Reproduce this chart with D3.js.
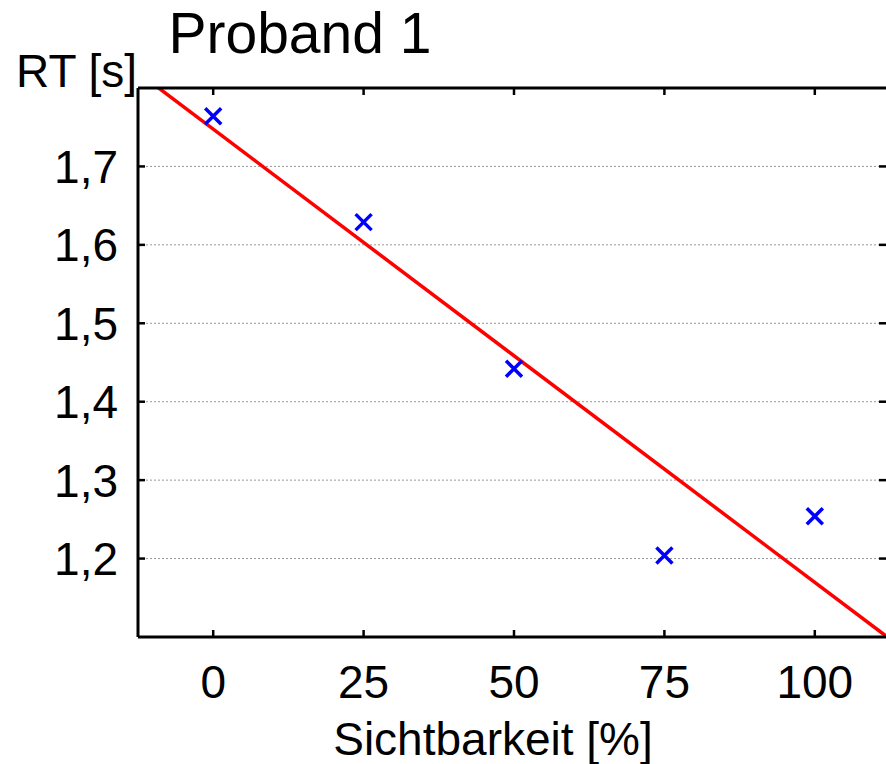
<!DOCTYPE html>
<html><head><meta charset="utf-8">
<script src="https://cdn.jsdelivr.net/npm/d3@7"></script>
<style>body{margin:0;background:#fff}svg{display:block}text{font-family:"Liberation Sans",Arial,sans-serif;fill:#000}</style>
</head><body>
<script>
const visibility = [0, 25, 50, 75, 100];
const rtValues = [1.764, 1.629, 1.442, 1.204, 1.254];
const xTicks = [0, 25, 50, 75, 100];
const yTicks = [1.2, 1.3, 1.4, 1.5, 1.6, 1.7];
const xDomain = [-12.5, 112.5];
const yDomain = [1.1, 1.8];
const title = "Proband 1";
const xLabel = "Sichtbarkeit [%]";
const yLabel = "RT [s]";

const W = 886, H = 764;
const L = 138, R = 890, T = 88, B = 637;
const svg = d3.select("body").append("svg").attr("width", W).attr("height", H);
const x = d3.scaleLinear().domain(xDomain).range([L, R]);
const y = d3.scaleLinear().domain(yDomain).range([B, T]);
const fmt = d => d.toFixed(1).replace(".", ",");

// grid
svg.append("g").selectAll("line").data(yTicks).join("line")
  .attr("x1", L).attr("x2", R).attr("y1", d => y(d)).attr("y2", d => y(d))
  .attr("stroke", "#999").attr("stroke-width", 1).attr("stroke-dasharray", "2,2");

// regression line (least squares from data)
const mx = d3.mean(visibility), my = d3.mean(rtValues);
const slope = d3.sum(visibility, (v, i) => (v - mx) * (rtValues[i] - my)) / d3.sum(visibility, v => (v - mx) ** 2);
const icpt = my - slope * mx;
svg.append("clipPath").attr("id", "clip").append("rect").attr("x", L).attr("y", T).attr("width", R - L).attr("height", B - T);
svg.append("line").attr("clip-path", "url(#clip)")
  .attr("x1", x(xDomain[0])).attr("y1", y(icpt + slope * xDomain[0]))
  .attr("x2", x(xDomain[1])).attr("y2", y(icpt + slope * xDomain[1]))
  .attr("stroke", "#ff0000").attr("stroke-width", 3.5);

// markers
const s = 8;
const mk = svg.append("g").selectAll("g").data(visibility.map((v, i) => [v, rtValues[i]])).join("g")
  .attr("transform", d => `translate(${x(d[0])},${y(d[1])})`);
mk.append("path").attr("d", `M${-s},${-s}L${s},${s}M${-s},${s}L${s},${-s}`)
  .attr("stroke", "#0000ff").attr("stroke-width", 3.5).attr("fill", "none");

// axes (custom, ticks inward both sides)
const axG = svg.append("g");
axG.append("line").attr("x1", L).attr("x2", R).attr("y1", T).attr("y2", T).attr("stroke", "#000").attr("stroke-width", 3);
axG.append("line").attr("x1", L).attr("x2", R).attr("y1", B).attr("y2", B).attr("stroke", "#000").attr("stroke-width", 3);
axG.append("line").attr("x1", L).attr("x2", L).attr("y1", T).attr("y2", B).attr("stroke", "#000").attr("stroke-width", 3);
axG.append("line").attr("x1", R).attr("x2", R).attr("y1", T).attr("y2", B).attr("stroke", "#000").attr("stroke-width", 3);
const tl = 7;
xTicks.forEach(t => {
  axG.append("line").attr("x1", x(t)).attr("x2", x(t)).attr("y1", B).attr("y2", B - tl).attr("stroke", "#000").attr("stroke-width", 2.5);
  axG.append("line").attr("x1", x(t)).attr("x2", x(t)).attr("y1", T).attr("y2", T + tl).attr("stroke", "#000").attr("stroke-width", 2.5);
  axG.append("text").attr("x", x(t)).attr("y", 698).attr("text-anchor", "middle").attr("font-size", 46).text(t);
});
yTicks.forEach(t => {
  axG.append("line").attr("x1", L).attr("x2", L + tl).attr("y1", y(t)).attr("y2", y(t)).attr("stroke", "#000").attr("stroke-width", 2.5);
  axG.append("line").attr("x1", R).attr("x2", R - tl - 4).attr("y1", y(t)).attr("y2", y(t)).attr("stroke", "#000").attr("stroke-width", 2.5);
  axG.append("text").attr("x", 118).attr("y", y(t) + 16.5).attr("text-anchor", "end").attr("font-size", 46).text(fmt(t));
});

svg.append("text").attr("x", 137).attr("y", 87).attr("text-anchor", "end").attr("font-size", 46).text(yLabel);
svg.append("text").attr("x", 493).attr("y", 755).attr("text-anchor", "middle").attr("font-size", 46).text(xLabel);
svg.append("text").attr("x", 300).attr("y", 53).attr("text-anchor", "middle").attr("font-size", 57).text(title);
</script>
</body></html>
